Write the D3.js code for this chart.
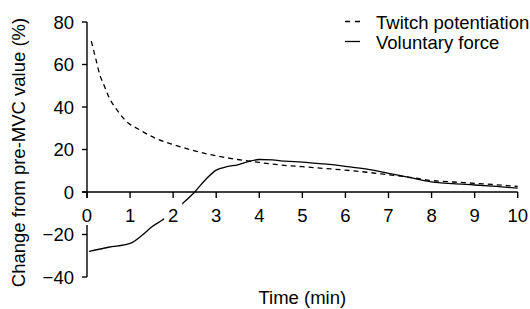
<!DOCTYPE html>
<html><head><meta charset="utf-8">
<script src="https://cdn.jsdelivr.net/npm/d3@7"></script>
<style>
html,body{margin:0;padding:0;background:#fff;}
svg{display:block;font-family:"Liberation Sans",Arial,Helvetica,sans-serif;}
</style></head>
<body>
<svg id="c" width="530" height="309"></svg>
<script>
// ---- data ----
const twitchX = [0.1,0.2,0.3,0.4,0.5,0.7,0.9,1.2,1.6,2.0,2.5,3.0,3.5,4.0,4.5,5.0,5.5,6.0,6.5,7.0,7.5,8.0,8.5,9.0,9.5,10.0];
const twitchY = [71,63,55,50,45,38.5,33.5,29.5,25.2,22.3,19.4,17,15.3,13.9,12.7,11.9,11.1,10.3,9.3,8.1,6.9,5.4,4.7,4.1,3.4,2.6];
const forceX = [0.05,0.5,1.0,1.3,1.5,1.75,2.0,2.2,2.5,2.75,3.0,3.25,3.5,3.75,4.0,4.3,4.6,5.0,5.5,6.0,6.5,7.0,7.5,8.0,8.5,9.0,9.5,10.0];
const forceY = [-28,-26,-24.2,-20,-16.5,-13.2,-9.5,-5.8,0,5.8,10.3,11.9,12.8,14.3,15.3,15.1,14.5,14.1,13.2,12.1,10.8,8.8,6.8,4.8,3.9,3.3,2.6,1.8];
const xTicks = [0,1,2,3,4,5,6,7,8,9,10];
const yTicks = [80,60,40,20,0,-20,-40];
const seriesNames = ["Twitch potentiation","Voluntary force"];
const xTitle = "Time (min)";
const yTitle = "Change from pre-MVC value (%)";

const svg = d3.select("#c");
const x = d3.scaleLinear().domain([0,10]).range([87,517.7]);
const y = d3.scaleLinear().domain([-40,80]).range([277,22]);
const FS = 18.5;

// lines
const line = d3.line().x(d=>x(d[0])).y(d=>y(d[1])).curve(d3.curveMonotoneX);
svg.append("path").datum(twitchX.map((v,i)=>[v,twitchY[i]]))
  .attr("d",line).attr("fill","none").attr("stroke","#000").attr("stroke-width",1.3)
  .attr("stroke-dasharray","5,4");
svg.append("path").datum(forceX.map((v,i)=>[v,forceY[i]]))
  .attr("d",line).attr("fill","none").attr("stroke","#000").attr("stroke-width",1.3);

// y axis
svg.append("line").attr("x1",x(0)).attr("x2",x(0)).attr("y1",y(80)).attr("y2",y(-40))
  .attr("stroke","#000").attr("stroke-width",1.4);
svg.selectAll(".yt").data(yTicks).enter().append("line")
  .attr("x1",x(0)-5).attr("x2",x(0)).attr("y1",d=>y(d)).attr("y2",d=>y(d))
  .attr("stroke","#000").attr("stroke-width",1.4);
svg.selectAll(".yl").data(yTicks).enter().append("text")
  .attr("x",x(0)-13).attr("y",d=>y(d)).attr("dy","0.36em")
  .attr("text-anchor","end").attr("font-size",FS)
  .text(d=>d<0?"\u2212"+Math.abs(d):String(d));

// x axis at y=0
svg.append("line").attr("x1",x(0)-5).attr("x2",x(10)).attr("y1",y(0)).attr("y2",y(0))
  .attr("stroke","#000").attr("stroke-width",1.4);
svg.selectAll(".xt").data(xTicks).enter().append("line")
  .attr("x1",d=>x(d)).attr("x2",d=>x(d)).attr("y1",y(0)).attr("y2",y(0)+6)
  .attr("stroke","#000").attr("stroke-width",1.4);
const xl = svg.selectAll(".xl").data(xTicks).enter().append("g");
xl.append("rect")
  .attr("x",d=>x(d)-(String(d).length*5+4)).attr("width",d=>String(d).length*10+8)
  .attr("y",y(0)+6).attr("height",33-6).attr("fill","#fff");
xl.append("text")
  .attr("x",d=>x(d)).attr("y",y(0)+30).attr("text-anchor","middle").attr("font-size",FS)
  .text(d=>String(d));

// axis titles
svg.append("text").attr("x",(x(0)+x(10))/2).attr("y",304).attr("text-anchor","middle")
  .attr("font-size",FS).text(xTitle);
svg.append("text").attr("transform",`translate(25,${(y(80)+y(-40))/2 + 3}) rotate(-90)`)
  .attr("text-anchor","middle").attr("font-size",FS).text(yTitle);

// legend
const lg = svg.append("g");
seriesNames.forEach((n,i)=>{
  const by = 28.5 + i*20;
  lg.append("line").attr("x1",345).attr("x2",360).attr("y1",by-7).attr("y2",by-7)
    .attr("stroke","#000").attr("stroke-width",1.3)
    .attr("stroke-dasharray", i===0 ? "5,5" : null);
  lg.append("text").attr("x",376).attr("y",by).attr("font-size",FS).text(n);
});
</script>
</body></html>
